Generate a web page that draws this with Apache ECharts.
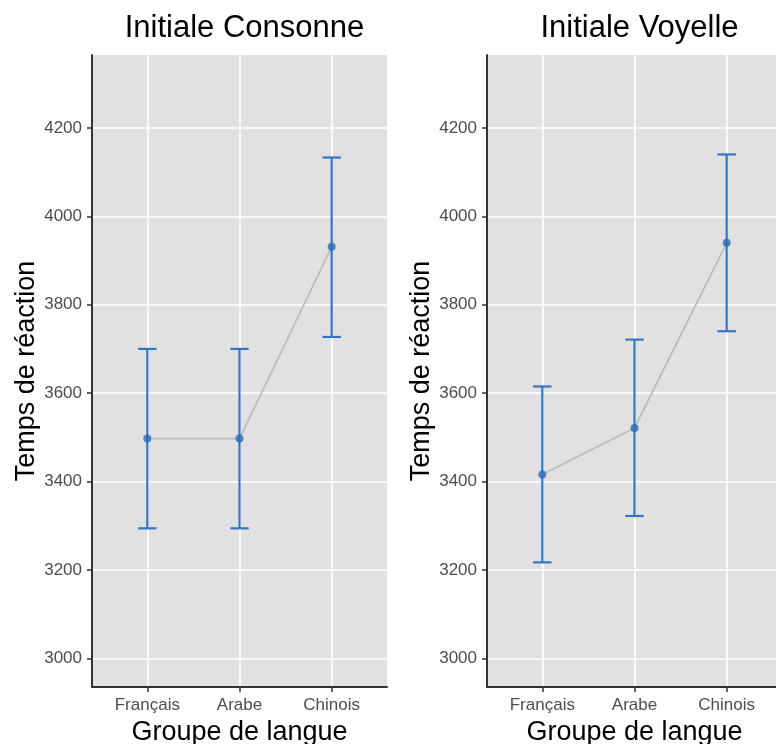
<!DOCTYPE html>
<html>
<head>
<meta charset="utf-8">
<script src="https://cdn.jsdelivr.net/npm/echarts@6/dist/echarts.min.js"></script>
<style>
html,body{margin:0;padding:0;background:#fff;}
#chart{width:776px;height:744px;}
</style>
</head>
<body>
<div id="chart"></div>
<script>
// ---- data ----
var categories = ['Français', 'Arabe', 'Chinois'];
var panelTitles = ['Initiale Consonne', 'Initiale Voyelle'];
var consonneMean = [3497, 3497, 3931];
var consonneLow  = [3294, 3294, 3727];
var consonneHigh = [3700, 3700, 4133];
var voyelleMean  = [3416, 3521, 3940];
var voyelleLow   = [3217, 3322, 3740];
var voyelleHigh  = [3615, 3721, 4140];
var yTicks = [3000, 3200, 3400, 3600, 3800, 4000, 4200];
var xTicks = [1, 2, 3];
var yMin = 2935, yMax = 4365;
var xMin = 0.4, xMax = 3.6;

var chart = echarts.init(document.getElementById('chart'), null, {renderer: 'canvas'});

var FONT = 'Liberation Sans, Arial, Helvetica, sans-serif';
var BLUE = '#3575c2';
var GRAY = '#bdbdbd';
var AXIS = '#333333';
var TXT = '#4d4d4d';

function makeX(gi) {
  return {
    type: 'value', gridIndex: gi, min: xMin, max: xMax,
    name: 'Groupe de langue', nameLocation: 'middle', nameGap: 30,
    nameTextStyle: {fontFamily: FONT, fontSize: 27, color: '#000'},
    axisLine: {show: true, onZero: false, lineStyle: {color: AXIS, width: 2}},
    axisTick: {show: true, length: 5, customValues: xTicks, lineStyle: {color: AXIS, width: 1.5}},
    axisLabel: {customValues: xTicks, margin: 10, fontFamily: FONT, fontSize: 17, color: TXT,
      formatter: function (v) { return categories[Math.round(v) - 1] || ''; }},
    splitLine: {show: true, lineStyle: {color: '#ffffff', width: 1.6}}
  };
}
function makeY(gi) {
  return {
    type: 'value', gridIndex: gi, min: yMin, max: yMax,
    name: 'Temps de réaction', nameLocation: 'middle', nameGap: 52,
    nameTextStyle: {fontFamily: FONT, fontSize: 27, color: '#000'},
    axisLine: {show: true, onZero: false, lineStyle: {color: AXIS, width: 2}},
    axisTick: {show: true, length: 5, customValues: yTicks, lineStyle: {color: AXIS, width: 1.5}},
    axisLabel: {customValues: yTicks, margin: 10, fontFamily: FONT, fontSize: 17, color: TXT,
      formatter: function (v) { return String(v); }},
    splitLine: {show: true, lineStyle: {color: '#ffffff', width: 1.6}}
  };
}

function errData(low, high) {
  return low.map(function (l, i) { return [xTicks[i], l, high[i]]; });
}
function meanData(mean) {
  return mean.map(function (m, i) { return [xTicks[i], m]; });
}

function errorRender(params, api) {
  var x = api.value(0);
  var lo = api.coord([x, api.value(1)]);
  var hi = api.coord([x, api.value(2)]);
  var half = api.size([0.2, 0])[0] / 2;
  var st = {stroke: BLUE, lineWidth: 2.2, fill: null};
  return {
    type: 'group',
    children: [
      {type: 'line', shape: {x1: lo[0], y1: lo[1], x2: hi[0], y2: hi[1]}, style: st},
      {type: 'line', shape: {x1: lo[0] - half, y1: lo[1], x2: lo[0] + half, y2: lo[1]}, style: st},
      {type: 'line', shape: {x1: hi[0] - half, y1: hi[1], x2: hi[0] + half, y2: hi[1]}, style: st}
    ]
  };
}

function panelSeries(gi, mean, low, high) {
  return [
    {type: 'line', xAxisIndex: gi, yAxisIndex: gi, data: meanData(mean), symbol: 'none',
      lineStyle: {color: GRAY, width: 1.8}, silent: true, z: 2},
    {type: 'custom', xAxisIndex: gi, yAxisIndex: gi, data: errData(low, high),
      renderItem: errorRender, silent: true, z: 3},
    {type: 'scatter', xAxisIndex: gi, yAxisIndex: gi, data: meanData(mean), symbolSize: 8,
      itemStyle: {color: '#2a6ab8'}, silent: true, z: 4}
  ];
}

var option = {
  animation: false,
  backgroundColor: '#ffffff',
  title: [
    {text: panelTitles[0], left: 239.5, top: 8, textAlign: 'center',
      textStyle: {fontFamily: FONT, fontSize: 31, fontWeight: 'normal', color: '#000'}},
    {text: panelTitles[1], left: 634.5, top: 8, textAlign: 'center',
      textStyle: {fontFamily: FONT, fontSize: 31, fontWeight: 'normal', color: '#000'}}
  ],
  grid: [
    {left: 92, top: 55, width: 295, height: 632, show: true, backgroundColor: '#e1e1e1', borderWidth: 0,
      containLabel: false, outerBoundsMode: 'none'},
    {left: 487, top: 55, width: 295, height: 632, show: true, backgroundColor: '#e1e1e1', borderWidth: 0,
      containLabel: false, outerBoundsMode: 'none'}
  ],
  xAxis: [makeX(0), makeX(1)],
  yAxis: [makeY(0), makeY(1)],
  series: [].concat(
    panelSeries(0, consonneMean, consonneLow, consonneHigh),
    panelSeries(1, voyelleMean, voyelleLow, voyelleHigh)
  )
};
chart.setOption(option);
</script>
</body>
</html>
